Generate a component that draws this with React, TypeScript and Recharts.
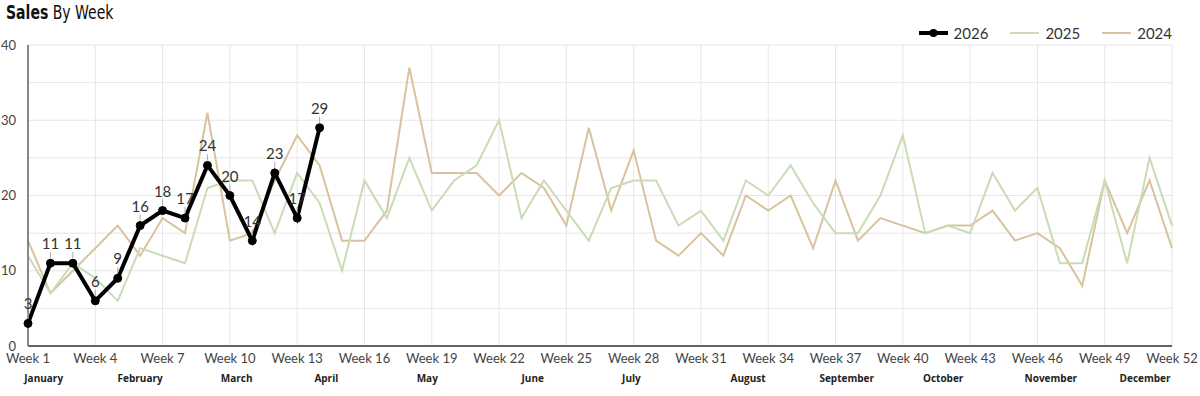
import React from 'react'
import {
  LineChart,
  Line,
  XAxis,
  YAxis,
  CartesianGrid,
  LabelList,
} from 'recharts'

const weeks = Array.from({ length: 52 }, (_, i) => i + 1)

const sales2026 = [3, 11, 11, 6, 9, 16, 18, 17, 24, 20, 14, 23, 17, 29]

const sales2025 = [
  12, 7, 11, 9, 6, 13, 12, 11, 21, 22, 22, 15, 23, 19, 10, 22, 17, 25, 18, 22,
  24, 30, 17, 22, 18, 14, 21, 22, 22, 16, 18, 14, 22, 20, 24, 19, 15, 15, 20, 28,
  15, 16, 15, 23, 18, 21, 11, 11, 22, 11, 25, 16,
]

const sales2024 = [
  14, 7, 10, 13, 16, 12, 17, 15, 31, 14, 15, 22, 28, 24, 14, 14, 18, 37, 23, 23,
  23, 20, 23, 21, 16, 29, 18, 26, 14, 12, 15, 12, 20, 18, 20, 13, 22, 14, 17, 16,
  15, 16, 16, 18, 14, 15, 13, 8, 22, 15, 22, 13,
]

const weekTicks = [1, 4, 7, 10, 13, 16, 19, 22, 25, 28, 31, 34, 37, 40, 43, 46, 49, 52]
const yTicks = [0, 5, 10, 15, 20, 25, 30, 35, 40]

const months = [
  'January', 'February', 'March', 'April', 'May', 'June',
  'July', 'August', 'September', 'October', 'November', 'December',
]
// week position where each month label sits
const monthWeeks = [1.7, 6.0, 10.3, 14.3, 18.8, 23.5, 27.9, 33.1, 37.5, 41.8, 46.6, 50.8]

const series = [
  { key: 'y2026', name: '2026', color: '#000000' },
  { key: 'y2025', name: '2025', color: '#c9dcb5' },
  { key: 'y2024', name: '2024', color: '#d9c39f' },
]

const data = weeks.map((w, i) => ({
  week: w,
  y2026: sales2026[i],
  y2025: sales2025[i],
  y2024: sales2024[i],
}))

const FONT = "Lato, 'Open Sans', sans-serif"

const PointLabel = (props: any) => {
  const { x, y, value } = props
  if (value == null) return null
  return (
    <g>
      <line x1={x} x2={x} y1={y - 11} y2={y - 5} stroke="#aaa" strokeWidth={1} />
      <text x={x} y={y - 14} textAnchor="middle" fontSize={15} fill="#333" fontFamily={FONT}>
        {value}
      </text>
    </g>
  )
}

const ChartLegend = () => (
  <div
    style={{
      position: 'absolute',
      right: 28,
      top: 24,
      display: 'flex',
      alignItems: 'center',
      fontFamily: FONT,
      fontSize: 15,
      color: '#333',
      lineHeight: '18px',
    }}
  >
    {series.map((s) => (
      <div key={s.key} style={{ display: 'flex', alignItems: 'center', marginLeft: 22 }}>
        <svg width={29} height={10}>
          <line
            x1={0}
            x2={29}
            y1={5}
            y2={5}
            stroke={s.color}
            strokeWidth={s.key === 'y2026' ? 4 : 2}
          />
          {s.key === 'y2026' && <circle cx={14.5} cy={5} r={4} fill={s.color} />}
        </svg>
        <span style={{ marginLeft: 6 }}>{s.name}</span>
      </div>
    ))}
  </div>
)

export default function App() {
  return (
    <div style={{ position: 'absolute', left: 0, top: 0, width: 1200, height: 396, background: '#fff' }}>
      <div
        style={{
          position: 'absolute',
          left: 6,
          top: 0,
          fontFamily: "'DejaVu Sans Condensed', 'DejaVu Sans', sans-serif",
          fontSize: 20,
          color: '#111',
          lineHeight: '24px',
          transform: 'scaleX(0.78)',
          transformOrigin: 'left top',
          whiteSpace: 'nowrap',
        }}
      >
        <b>Sales</b> By Week
      </div>
      <ChartLegend />
      <LineChart
        width={1200}
        height={396}
        data={data}
        margin={{ top: 45, right: 28, bottom: 4, left: 0 }}
      >
        <CartesianGrid stroke="#e6e6e6" strokeWidth={1} />
        <XAxis
          dataKey="week"
          type="number"
          domain={[1, 52]}
          ticks={weekTicks}
          interval={0}
          tickFormatter={(v) => `Week ${v}`}
          height={22}
          tickLine={false}
          axisLine={{ stroke: '#333', strokeWidth: 1.5 }}
          tick={{ fontSize: 13, fill: '#444', fontFamily: FONT }}
        />
        <XAxis
          xAxisId="month"
          dataKey="week"
          type="number"
          domain={[1, 52]}
          ticks={monthWeeks}
          interval={0}
          tickFormatter={(v) => months[monthWeeks.indexOf(v)]}
          height={24}
          tickSize={0}
          tickMargin={7}
          tickLine={false}
          axisLine={false}
          tick={{ fontSize: 10, fill: '#222', fontFamily: "'Open Sans', sans-serif", fontWeight: 700 }}
        />
        <YAxis
          width={28}
          domain={[0, 40]}
          ticks={yTicks}
          interval={0}
          tickFormatter={(v) => (v % 10 === 0 ? String(v) : '')}
          tickLine={false}
          tickSize={6}
          tickMargin={6}
          axisLine={{ stroke: '#666', strokeWidth: 1.5 }}
          tick={{ fontSize: 13, fill: '#444', fontFamily: FONT }}
        />
        <Line
          dataKey="y2024"
          name="2024"
          stroke={series[2].color}
          strokeWidth={2}
          dot={false}
          type="linear"
          isAnimationActive={false}
        />
        <Line
          dataKey="y2025"
          name="2025"
          stroke={series[1].color}
          strokeWidth={2}
          dot={false}
          type="linear"
          isAnimationActive={false}
        />
        <Line
          dataKey="y2026"
          name="2026"
          stroke="#000"
          strokeWidth={4}
          dot={{ r: 4, fill: '#000', stroke: '#000', strokeWidth: 1 }}
          type="linear"
          isAnimationActive={false}
        >
          <LabelList dataKey="y2026" content={<PointLabel />} />
        </Line>
      </LineChart>
    </div>
  )
}
